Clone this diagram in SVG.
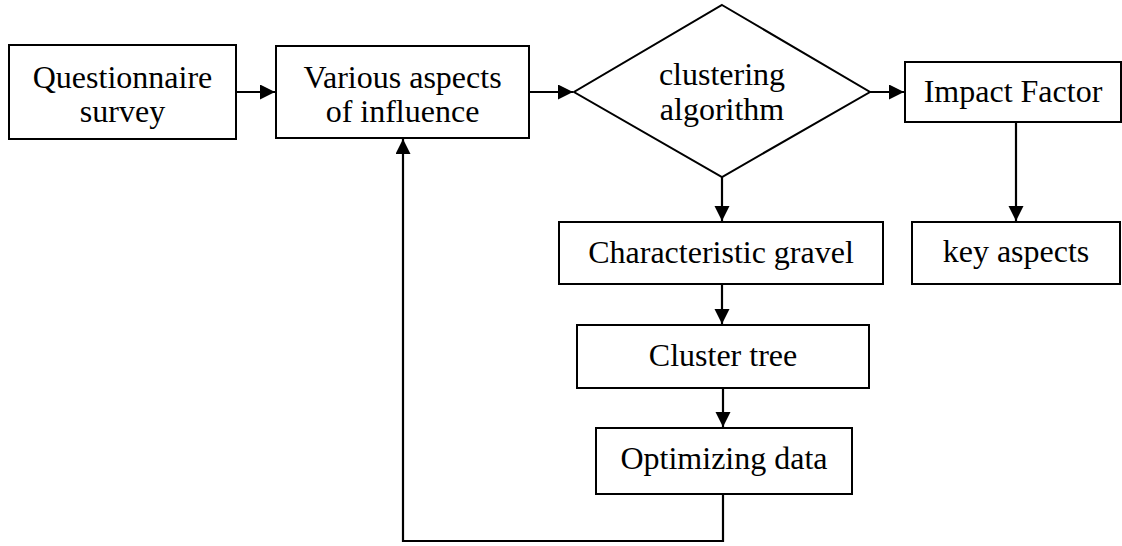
<svg xmlns="http://www.w3.org/2000/svg" width="1122" height="546" viewBox="0 0 1122 546">
<style>
.box{fill:#fff;stroke:#000;stroke-width:2}
.lbl{font-family:"Liberation Serif","Times New Roman",serif;font-size:32px;fill:#000;text-anchor:middle}
.conn{fill:none;stroke:#000;stroke-width:2.2}
</style>
<defs>
<marker id="arr" markerUnits="userSpaceOnUse" markerWidth="17" markerHeight="16" refX="15" refY="7.5" orient="auto">
<path d="M0,0 L15,7.5 L0,15 z" fill="#000"/>
</marker>
</defs>
<rect width="1122" height="546" fill="#fff"/>
<g id="connectors">
<path class="conn" d="M236,92 H275" marker-end="url(#arr)"/>
<path class="conn" d="M529,92 H573" marker-end="url(#arr)"/>
<path class="conn" d="M870,92 H904" marker-end="url(#arr)"/>
<path class="conn" d="M1016,122 V221" marker-end="url(#arr)"/>
<path class="conn" d="M722,177 V221" marker-end="url(#arr)"/>
<path class="conn" d="M722,284 V324" marker-end="url(#arr)"/>
<path class="conn" d="M723,388 V427" marker-end="url(#arr)"/>
<path class="conn" d="M723,494 V541 H403 V139" marker-end="url(#arr)"/>
</g>
<g id="questionnaire">
<rect class="box" x="9" y="45" width="227" height="94"/>
<text class="lbl" x="122.5" y="88">Questionnaire</text>
<text class="lbl" x="122.5" y="122">survey</text>
</g>
<g id="various">
<rect class="box" x="276" y="46" width="253" height="92"/>
<text class="lbl" x="402.5" y="88">Various aspects</text>
<text class="lbl" x="402.5" y="122">of influence</text>
</g>
<g id="clustering">
<polygon class="box" points="722,5 870,92 722,177 574,92"/>
<text class="lbl" x="722" y="85">clustering</text>
<text class="lbl" x="722" y="120">algorithm</text>
</g>
<g id="impact">
<rect class="box" x="905" y="62" width="216" height="60"/>
<text class="lbl" x="1013" y="102">Impact Factor</text>
</g>
<g id="key">
<rect class="box" x="912" y="222" width="208" height="62"/>
<text class="lbl" x="1016" y="262">key aspects</text>
</g>
<g id="characteristic">
<rect class="box" x="559" y="222" width="324" height="62"/>
<text class="lbl" x="721" y="263">Characteristic gravel</text>
</g>
<g id="cluster-tree">
<rect class="box" x="577" y="325" width="292" height="63"/>
<text class="lbl" x="723" y="366">Cluster tree</text>
</g>
<g id="optimizing">
<rect class="box" x="596" y="428" width="256" height="66"/>
<text class="lbl" x="724" y="469">Optimizing data</text>
</g>
</svg>
